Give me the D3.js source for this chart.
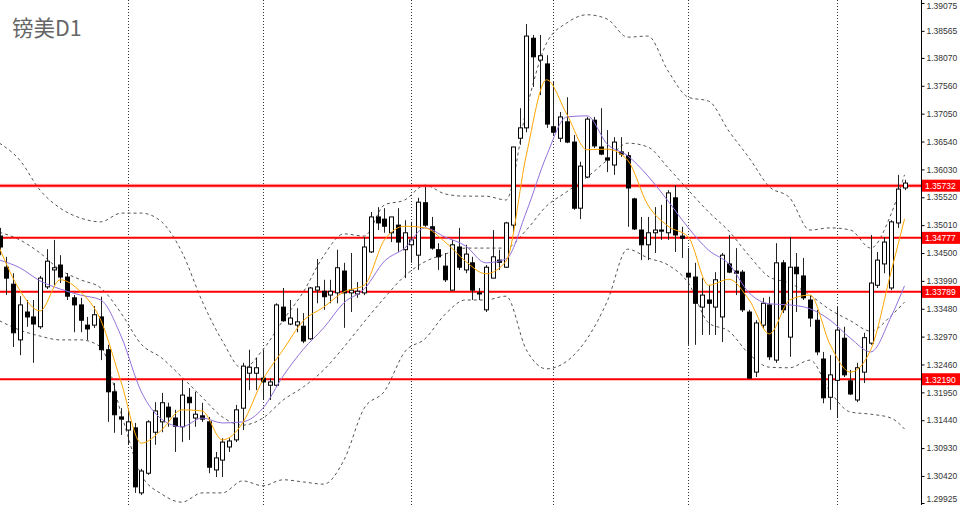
<!DOCTYPE html>
<html><head><meta charset="utf-8">
<script src="https://cdn.jsdelivr.net/npm/d3@7/dist/d3.min.js"></script>
<style>html,body{margin:0;padding:0;background:#fff;}svg{display:block;}</style>
</head><body><svg id="c" width="960" height="505"></svg>
<script>
// ---- data (GBPUSD D1), one value per bar ----
const open = [1.3481,1.3424,1.3393,1.3291,1.3342,1.3333,1.3315,1.3388,1.3419,1.3428,1.3406,1.3368,1.3355,1.3318,1.3318,1.3333,1.3273,1.3196,1.3150,1.3126,1.3130,1.3011,1.3047,1.3122,1.3141,1.3168,1.3148,1.3132,1.3186,1.3148,1.3152,1.3141,1.3053,1.3071,1.3095,1.3108,1.3166,1.3230,1.3230,1.3221,1.3208,1.3208,1.3351,1.3320,1.3318,1.3316,1.3293,1.3382,1.3380,1.3373,1.3377,1.3417,1.3377,1.3375,1.3377,1.3452,1.3516,1.3512,1.3487,1.3501,1.3456,1.3465,1.3446,1.3542,1.3498,1.3456,1.3426,1.3382,1.3461,1.3419,1.3432,1.3377,1.3346,1.3404,1.3437,1.3424,1.3501,1.3660,1.3679,1.3843,1.3803,1.3796,1.3681,1.3660,1.3690,1.3653,1.3532,1.3589,1.3693,1.3644,1.3624,1.3611,1.3635,1.3628,1.3549,1.3492,1.3465,1.3487,1.3492,1.3487,1.3551,1.3481,1.3413,1.3406,1.3351,1.3364,1.3351,1.3333,1.3430,1.3417,1.3415,1.3342,1.3232,1.3318,1.3355,1.3254,1.3432,1.3296,1.3424,1.3408,1.3364,1.3327,1.3256,1.3186,1.3217,1.3294,1.3216,1.3181,1.3232,1.3285,1.3391,1.3430,1.3386,1.3505,1.3569];
const high = [1.3496,1.3443,1.3413,1.3371,1.3364,1.3364,1.3408,1.3457,1.3474,1.3446,1.3413,1.3373,1.3368,1.3333,1.3353,1.3370,1.3282,1.3212,1.3166,1.3163,1.3139,1.3055,1.3144,1.3177,1.3194,1.3176,1.3163,1.3218,1.3203,1.3196,1.3176,1.3150,1.3086,1.3111,1.3111,1.3172,1.3249,1.3273,1.3258,1.3273,1.3221,1.3358,1.3386,1.3364,1.3349,1.3340,1.3388,1.3439,1.3401,1.3401,1.3456,1.3432,1.3450,1.3397,1.3479,1.3525,1.3534,1.3532,1.3516,1.3532,1.3510,1.3507,1.3551,1.3571,1.3516,1.3468,1.3450,1.3474,1.3496,1.3465,1.3443,1.3386,1.3428,1.3492,1.3456,1.3507,1.3644,1.3715,1.3869,1.3849,1.3849,1.3812,1.3763,1.3708,1.3735,1.3666,1.3617,1.3699,1.3699,1.3715,1.3675,1.3662,1.3662,1.3635,1.3551,1.3516,1.3516,1.3534,1.3538,1.3565,1.3574,1.3498,1.3459,1.3432,1.3404,1.3391,1.3415,1.3450,1.3483,1.3459,1.3419,1.3346,1.3327,1.3368,1.3370,1.3468,1.3437,1.3479,1.3450,1.3441,1.3373,1.3346,1.3269,1.3263,1.3351,1.3315,1.3236,1.3249,1.3304,1.3483,1.3452,1.3479,1.3510,1.3593,1.3584];
const low = [1.3446,1.3373,1.3278,1.3263,1.3315,1.3249,1.3311,1.3384,1.3391,1.3395,1.3364,1.3305,1.3305,1.3291,1.3313,1.3254,1.3141,1.3121,1.3117,1.3099,1.3011,1.3007,1.3044,1.3099,1.3122,1.3132,1.3086,1.3104,1.3108,1.3132,1.3141,1.3047,1.3040,1.3040,1.3086,1.3104,1.3126,1.3199,1.3199,1.3181,1.3181,1.3205,1.3324,1.3318,1.3305,1.3285,1.3291,1.3358,1.3346,1.3358,1.3358,1.3313,1.3342,1.3368,1.3373,1.3450,1.3492,1.3487,1.3470,1.3452,1.3404,1.3432,1.3419,1.3498,1.3456,1.3419,1.3397,1.3382,1.3419,1.3413,1.3364,1.3364,1.3342,1.3404,1.3419,1.3423,1.3487,1.3648,1.3671,1.3754,1.3739,1.3679,1.3666,1.3653,1.3651,1.3529,1.3512,1.3587,1.3642,1.3629,1.3598,1.3593,1.3626,1.3498,1.3492,1.3437,1.3437,1.3450,1.3474,1.3474,1.3452,1.3441,1.3282,1.3282,1.3300,1.3300,1.3300,1.3287,1.3413,1.3373,1.3342,1.3221,1.3223,1.3313,1.3254,1.3249,1.3340,1.3260,1.3342,1.3364,1.3315,1.3263,1.3175,1.3163,1.3148,1.3223,1.3190,1.3177,1.3212,1.3282,1.3386,1.3413,1.3382,1.3496,1.3565];
const close = [1.3461,1.3404,1.3304,1.3355,1.3333,1.3320,1.3404,1.3435,1.3423,1.3406,1.3371,1.3355,1.3327,1.3311,1.3337,1.3273,1.3196,1.3154,1.3146,1.3141,1.3022,1.3051,1.3141,1.3161,1.3176,1.3150,1.3133,1.3190,1.3176,1.3155,1.3146,1.3058,1.3075,1.3104,1.3106,1.3163,1.3243,1.3241,1.3240,1.3214,1.3214,1.3355,1.3326,1.3331,1.3324,1.3289,1.3386,1.3388,1.3370,1.3380,1.3423,1.3377,1.3382,1.3380,1.3461,1.3516,1.3505,1.3499,1.3516,1.3470,1.3487,1.3474,1.3543,1.3501,1.3459,1.3443,1.3401,1.3465,1.3424,1.3448,1.3382,1.3375,1.3424,1.3443,1.3433,1.3505,1.3644,1.3679,1.3847,1.3809,1.3811,1.3686,1.3671,1.3699,1.3653,1.3532,1.3609,1.3695,1.3646,1.3631,1.3620,1.3653,1.3631,1.3569,1.3494,1.3465,1.3487,1.3492,1.3490,1.3560,1.3483,1.3477,1.3406,1.3358,1.3373,1.3358,1.3401,1.3446,1.3415,1.3413,1.3346,1.3221,1.3322,1.3358,1.3260,1.3432,1.3346,1.3424,1.3412,1.3368,1.3331,1.3269,1.3185,1.3227,1.3309,1.3227,1.3192,1.3240,1.3295,1.3395,1.3437,1.3470,1.3507,1.3567,1.3578];

// indicator lines, read at every third bar
const lineBars = [0,3,6,9,12,15,18,21,24,27,30,33,36,39,42,45,48,51,54,57,60,63,66,69,72,75,78,81,84,87,90,93,96,99,102,105,108,111,114,117,120,123,126,129,132,134];
const maFast = [1.3459,1.3382,1.3344,1.3401,1.3379,1.3327,1.3214,1.3102,1.3126,1.3163,1.3161,1.3108,1.3139,1.3218,1.3273,1.3326,1.3351,1.3379,1.3391,1.3474,1.3499,1.3496,1.3470,1.3435,1.3412,1.3435,1.3629,1.3767,1.3704,1.3639,1.3640,1.3620,1.3538,1.3499,1.3479,1.3391,1.3402,1.3364,1.3302,1.3364,1.3373,1.3282,1.3232,1.3273,1.3415,1.3512];
const maSlow = [1.3437,1.3423,1.3399,1.3384,1.3373,1.3364,1.3298,1.3196,1.3146,1.3132,1.3148,1.3139,1.3141,1.3166,1.3225,1.3274,1.3313,1.3359,1.3384,1.3435,1.3459,1.3496,1.3479,1.3463,1.3432,1.3439,1.3525,1.3628,1.3699,1.3701,1.3649,1.3628,1.3591,1.3545,1.3496,1.3455,1.3430,1.3377,1.3357,1.3355,1.3348,1.3327,1.3294,1.3269,1.3333,1.3390];
const bbUpper = [1.3651,1.3620,1.3565,1.3532,1.3514,1.3507,1.3523,1.3523,1.3507,1.3452,1.3362,1.3289,1.3238,1.3273,1.3327,1.3379,1.3445,1.3485,1.3481,1.3538,1.3547,1.3574,1.3558,1.3554,1.3554,1.3547,1.3712,1.3834,1.3871,1.3886,1.3878,1.3845,1.3847,1.3783,1.3735,1.3728,1.3673,1.3624,1.3571,1.3551,1.3492,1.3496,1.3492,1.3459,1.3521,1.3593];
const bbMid = [1.3488,1.3474,1.3450,1.3419,1.3401,1.3386,1.3340,1.3283,1.3258,1.3223,1.3186,1.3150,1.3135,1.3148,1.3181,1.3205,1.3236,1.3278,1.3324,1.3368,1.3408,1.3434,1.3448,1.3459,1.3459,1.3459,1.3492,1.3536,1.3562,1.3589,1.3620,1.3651,1.3644,1.3606,1.3565,1.3525,1.3490,1.3445,1.3406,1.3395,1.3373,1.3346,1.3326,1.3307,1.3335,1.3360];
const bbLower = [1.3326,1.3309,1.3298,1.3291,1.3291,1.3278,1.3157,1.3044,1.3009,1.2994,1.3011,1.3011,1.3033,1.3024,1.3035,1.3031,1.3027,1.3071,1.3166,1.3197,1.3269,1.3293,1.3338,1.3364,1.3364,1.3371,1.3273,1.3238,1.3252,1.3293,1.3362,1.3457,1.3441,1.3428,1.3395,1.3322,1.3307,1.3265,1.3241,1.3240,1.3254,1.3196,1.3159,1.3155,1.3148,1.3128];

const levels = [1.35732, 1.34777, 1.33789, 1.32190];
const tickValues = [1.39075,1.38565,1.38070,1.37560,1.37050,1.36540,1.36030,1.35520,1.35010,1.34500,1.33990,1.33480,1.32970,1.32460,1.31950,1.31440,1.30930,1.30420,1.29925];
const separatorBars = [19, 39, 61, 82, 102, 124];
const title = "镑美D1";

// ---- drawing ----
const W = 960, H = 505, plotRight = 921;
const svg = d3.select("#c");
svg.append("rect").attr("width", W).attr("height", H).attr("fill", "#fff");

const x = d3.scaleLinear().domain([0, open.length - 1]).range([-0.5, 904.5]);
const y = d3.scaleLinear().domain([1.29925, 1.39075]).range([503, 3]);

svg.append("defs").append("clipPath").attr("id", "plot")
  .append("rect").attr("x", 0).attr("y", 0).attr("width", plotRight).attr("height", H);
const g = svg.append("g").attr("clip-path", "url(#plot)");

// monthly separators
g.selectAll("line.sep").data(separatorBars).join("line")
  .attr("x1", d => Math.round(x(d)) + 0.5).attr("x2", d => Math.round(x(d)) + 0.5)
  .attr("y1", 0).attr("y2", H)
  .attr("stroke", "#333").attr("stroke-width", 1).attr("stroke-dasharray", "1,2");

// Bollinger bands
const mkLine = arr => d3.line().x((d, i) => x(lineBars[i])).y(d => y(d)).curve(d3.curveMonotoneX)(arr);
[bbUpper, bbMid, bbLower].forEach(arr => {
  g.append("path").attr("d", mkLine(arr)).attr("fill", "none")
    .attr("stroke", "#555").attr("stroke-width", 1).attr("stroke-dasharray", "3,3");
});

// support / resistance levels
g.append("line").attr("x1", 0).attr("x2", plotRight).attr("y1", y(levels[0])).attr("y2", y(levels[0]))
  .attr("stroke", "rgba(255,80,80,0.35)").attr("stroke-width", 4);
g.selectAll("line.lvl").data(levels).join("line")
  .attr("x1", 0).attr("x2", plotRight).attr("y1", d => y(d)).attr("y2", d => y(d))
  .attr("stroke", "#ff0000").attr("stroke-width", 2);

// candles
const idx = d3.range(open.length);
g.selectAll("line.wick").data(idx).join("line")
  .attr("x1", i => Math.round(x(i)) + 0.5).attr("x2", i => Math.round(x(i)) + 0.5)
  .attr("y1", i => y(high[i])).attr("y2", i => y(low[i]))
  .attr("stroke", "#222").attr("stroke-width", 1);
g.selectAll("rect.body").data(idx).join("rect")
  .attr("x", i => Math.round(x(i)) - 1.5)
  .attr("width", 4)
  .attr("y", i => y(Math.max(open[i], close[i])))
  .attr("height", i => Math.max(1, Math.abs(y(open[i]) - y(close[i]))))
  .attr("fill", i => close[i] >= open[i] ? "#fff" : "#000")
  .attr("stroke", "#000").attr("stroke-width", 1);

// moving averages
g.append("path").attr("d", mkLine(maSlow)).attr("fill", "none").attr("stroke", "#9370db").attr("stroke-width", 1);
g.append("path").attr("d", mkLine(maFast)).attr("fill", "none").attr("stroke", "#ffa500").attr("stroke-width", 1);

// right price axis
svg.append("line").attr("x1", plotRight + 0.5).attr("x2", plotRight + 0.5).attr("y1", 0).attr("y2", H)
  .attr("stroke", "#000").attr("stroke-width", 1);
const axis = d3.axisRight(y).tickValues(tickValues).tickFormat(d3.format(".5f")).tickSize(3).tickSizeOuter(0).tickPadding(2);
const ax = svg.append("g").attr("transform", `translate(${plotRight + 0.5},0)`).call(axis);
ax.select(".domain").remove();
ax.selectAll("text").attr("font-family", "Liberation Sans, Arial, sans-serif").attr("font-size", 8.5).attr("fill", "#333");
ax.selectAll("line").attr("stroke", "#000");
// keep the end labels inside the picture
const yMin = d3.min(tickValues), yMax = d3.max(tickValues);
ax.selectAll(".tick").filter(d => d === yMax).select("text").attr("y", 3);
ax.selectAll(".tick").filter(d => d === yMin).select("text").attr("y", -4);

// level labels
const lab = svg.selectAll("g.lab").data(levels).join("g").attr("transform", d => `translate(${plotRight + 1},${y(d)})`);
lab.append("rect").attr("x", 0).attr("y", -6).attr("width", 38).attr("height", 12).attr("fill", "#ff0000");
lab.append("text").attr("x", 3).attr("y", 3.5).attr("fill", "#fff")
  .attr("font-family", "Liberation Sans, Arial, sans-serif").attr("font-size", 8.5)
  .text(d => d3.format(".5f")(d));

// title
svg.append("text").attr("x", 12).attr("y", 36).attr("font-family", "Noto Sans CJK SC, Noto Sans, sans-serif")
  .attr("font-size", 21.5).attr("fill", "#666").text(title);
</script></body></html>
